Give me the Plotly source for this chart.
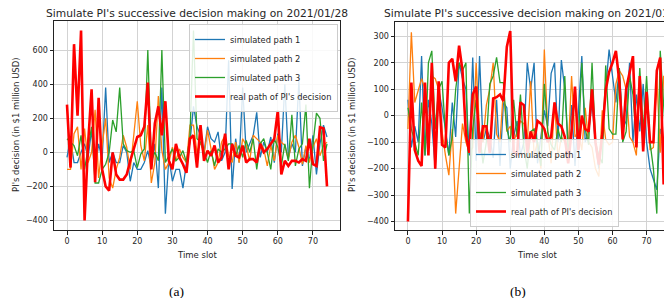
import plotly.graph_objects as go

# ---------------- data: panel (a) 2021/01/28 ----------------
t_a = list(range(75))
a_path1 = [-30, 80, -60, -60, 0, 50, -30, 130, -100, 50, -40, 380, -60, 0, -60, -60, 40, 0, -170, -60,
           -100, -100, -60, 10, -90, 50, -210, 380, -360, -30, -170, -100, -100, -210, -60, 60, 270, 150, 100, 0,
           150, 80, 60, 120, -50, 0, 540, -215, 80, -60, 380, 0, 50, 100, 235, -30, 60, 0, 90, -60,
           110, 0, 400, -30, 50, 0, 420, -80, 30, -50, 100, -130, 50, 160, 90]
a_path2 = [-100, -100, 110, 150, -100, 140, -60, 0, 250, -150, 40, 200, -150, -210, -100, -30, 100, 30, -100, 100,
           300, 40, -50, 160, -180, -60, 330, 10, -100, -60, 30, -50, 20, -30, -60, 160, 160, 0, 60, -20,
           130, 20, -100, -60, 60, 100, -20, -60, 60, -60, 80, 40, -50, 100, 80, 60, 20, -80, 40, -50,
           100, 60, 40, -40, 60, 100, 30, -70, 40, -60, 30, 80, -20, 40, 60]
a_path3 = [80, 60, 40, -20, 100, -100, 20, 150, -180, -180, -100, -70, 0, 190, 120, 380, 50, 10, 0, 10,
           -90, -10, 20, 600, -50, 0, -50, 600, -60, -20, 20, -50, -30, 10, -60, 100, 715, 80, 60, 0,
           -60, 10, -80, 20, 0, 20, 50, 50, -20, 40, -30, 70, 0, 80, -100, 50, 80, 0, -100, 80,
           30, -80, 50, -50, 220, -80, 20, 50, 280, -210, 50, 230, 200, -50, 50]
a_real = [280, -90, 635, 215, 715, -400, 50, 370, -175, 320, -100, -200, -225, 0, -130, -160, -160, -130, -50, 20,
          90, 100, 150, 410, -100, 170, 270, 100, 300, -50, -100, 50, -30, -70, -120, 80, 100, -90, 160, -50,
          10, -20, 40, -60, -30, 110, -100, 50, -20, -30, 40, -60, -40, -40, -60, 50, 0, 20, 50, 80,
          245, -130, -50, -80, -50, -50, -60, -40, -50, 80, -70, -80, 147, 140, -200]

# ---------------- data: panel (b) 2021/01/29 ----------------
t_b = list(range(77))
b_path1 = [60, -120, -40, -100, 225, -150, 60, -30, -200, 100, 30, -50, -150, 50, -80, 200, 140, 100, -150, 220,
           -170, 225, -100, -50, -80, -160, 60, -190, 50, 30, -200, -80, -20, -150, -100, 200, 100, 200, -180, -80,
           20, -40, 160, 200, -100, 210, 100, -120, 40, -190, 20, 225, -100, -60, 50, -110, -200, -50, 120, 250,
           150, 50, 180, -50, -20, 200, -100, 80, -60, 120, -100, -200, -240, -280, -50, -100, -120]
b_path2 = [-50, 315, 50, 100, 140, 100, -100, 150, 140, 100, -60, -150, -225, -50, -370, -200, -30, -100, -140, -120,
           200, -60, -100, 40, 100, 200, -70, -100, 100, -60, -40, -100, -60, -20, -30, -100, 130, -150, -100, -200,
           250, -60, -180, 50, -160, -80, -100, -140, 150, -80, -60, -130, 30, -100, -120, -200, -230, 20, -90, -110,
           -100, 120, 170, 150, 100, -80, -100, -150, 130, -100, 80, -130, -120, 150, -140, 150, 140]
b_path3 = [30, -50, -100, -150, 50, -150, 200, 245, -50, 100, 130, -60, -150, -80, 100, 200, 170, 200, -370, -50,
           60, -60, -180, -100, 120, 150, 220, 125, 125, -50, -100, 60, -80, 80, -120, -200, -60, -50, -100, -190,
           120, -60, -110, -130, -50, -100, 150, -140, -50, 80, -100, 200, -50, -110, 200, -100, -150, -180, 190, -50,
           -70, -70, 180, -100, -60, 150, 80, -100, 180, -60, 150, -100, -200, -370, 245, 40, -150]
b_real = [-400, 125, -130, -170, -190, 125, -150, 200, -200, 130, -110, -120, 200, 215, 130, 265, 170, -70, -140, 80,
          110, -140, -40, -40, -140, 65, 70, 80, 55, 260, 320, -135, -150, 50, 40, -140, -60, -100, -20, -30,
          -50, -100, -80, 50, -30, -40, -80, -180, -60, 110, -130, 0, -50, -60, 100, -100, -185, -70, 95, 165,
          200, 245, 130, -90, 100, 170, 225, -120, 150, -135, 90, -100, -100, 170, 220, -260, 200]

names = ["simulated path 1", "simulated path 2", "simulated path 3", "real path of PI's decision"]
colors = ["#1f77b4", "#ff7f0e", "#2ca02c", "#ff0000"]
widths = [1.3, 1.3, 1.3, 2.6]
x_ticks = [0, 10, 20, 30, 40, 50, 60, 70]
ya_ticks = [-400, -200, 0, 200, 400, 600]
yb_ticks = [-400, -300, -200, -100, 0, 100, 200, 300]
title_a = "Simulate PI's successive decision making on 2021/01/28"
title_b = "Simulate PI's successive decision making on 2021/01/29"
ytitle = "PI's decision (in $1 million USD)"
xtitle = "Time slot"

FONT = "DejaVu Sans"
TXT = "#262626"
fig = go.Figure()
for ys, nm, c, w in zip([a_path1, a_path2, a_path3, a_real], names, colors, widths):
    fig.add_trace(go.Scatter(x=t_a, y=ys, mode="lines", name=nm, line=dict(color=c, width=w),
                             xaxis="x", yaxis="y", legend="legend"))
for ys, nm, c, w in zip([b_path1, b_path2, b_path3, b_real], names, colors, widths):
    fig.add_trace(go.Scatter(x=t_b, y=ys, mode="lines", name=nm, line=dict(color=c, width=w),
                             xaxis="x2", yaxis="y2", legend="legend2"))

W, H = 672, 298
def px(x):
    return x / W
def py(y):
    return (H - y) / H

axis_common = dict(showgrid=True, gridcolor="#d3d3d3", gridwidth=0.8, zeroline=False,
                   showline=True, linecolor="#222222", linewidth=1, ticks="outside", ticklen=3.5,
                   tickcolor="#222222", tickfont=dict(family=FONT, size=8, color=TXT))

def ann(text, x, y, size, family=FONT, color=TXT, angle=0):
    return dict(text=text, x=px(x), y=py(y), xref="paper", yref="paper", showarrow=False,
                xanchor="center", yanchor="middle", textangle=angle,
                font=dict(family=family, size=size, color=color))

fig.update_layout(
    width=W, height=H, margin=dict(l=0, r=0, t=0, b=0),
    paper_bgcolor="white", plot_bgcolor="white",
    font=dict(family=FONT, size=8, color=TXT),
    xaxis=dict(domain=[px(46), px(332)], range=[-3.7, 77.7], tickvals=x_ticks, anchor="y", mirror=True,
               **axis_common),
    yaxis=dict(domain=[py(222), py(13)], range=[-456, 771], tickvals=ya_ticks, anchor="x", mirror=True,
               **axis_common),
    xaxis2=dict(domain=[px(387), 1.0], range=[-3.8, 79.8], tickvals=x_ticks, anchor="y2", mirror=True,
                **axis_common),
    yaxis2=dict(domain=[py(222), py(14)], range=[-432, 354], tickvals=yb_ticks, anchor="x2", mirror=False,
                **axis_common),
    legend=dict(x=px(330), xanchor="right", y=py(16), yanchor="top", bgcolor="rgba(255,255,255,0.85)",
                bordercolor="#cccccc", borderwidth=1, font=dict(family=FONT, size=8.3, color=TXT),
                tracegroupgap=0, itemwidth=30),
    legend2=dict(x=px(462), xanchor="left", y=py(219), yanchor="bottom", bgcolor="rgba(255,255,255,0.85)",
                 bordercolor="#cccccc", borderwidth=1, font=dict(family=FONT, size=8.3, color=TXT),
                 tracegroupgap=0, itemwidth=30),
    annotations=[
        ann(title_a, 189, 6, 10.7),
        ann(title_b, 527, 6, 10.7),
        ann(xtitle, 189, 247, 8.5),
        ann(xtitle, 529, 247, 8.5),
        ann(ytitle, 8, 117, 8.5, angle=-90),
        ann(ytitle, 344, 117, 8.5, angle=-90),
        ann("(a)", 168, 283, 13.5, family="Liberation Serif", color="#000000"),
        ann("(b)", 510, 283, 13.5, family="Liberation Serif", color="#000000"),
    ],
)

fig.write_html("out.html")
